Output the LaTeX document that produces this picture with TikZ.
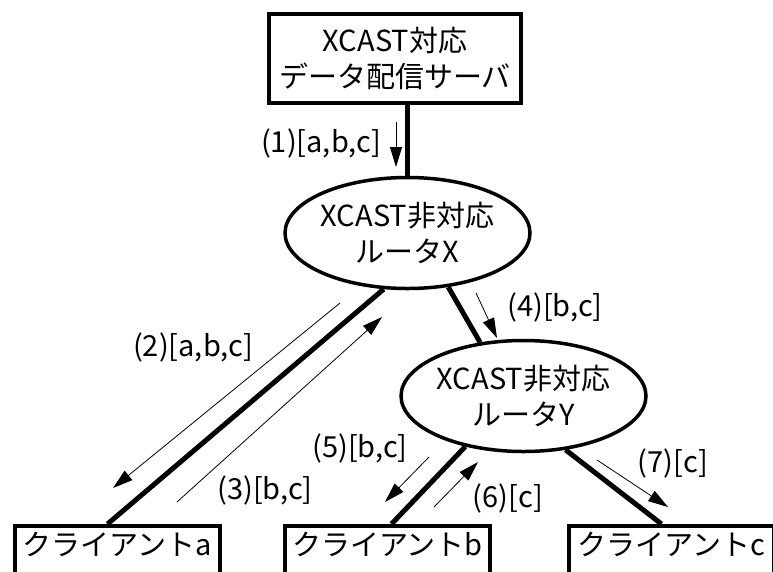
\documentclass[tikz,border=0pt]{standalone}
\usepackage{fontspec}
\newfontfamily\jpfont{Noto Sans CJK JP}
\usetikzlibrary{shapes.geometric,arrows.meta}
\tikzset{
  every node/.style={font=\jpfont\fontsize{29}{36}\selectfont, inner sep=0pt},
  box/.style={draw, line width=3.5pt, rectangle, align=center},
  client/.style={box, minimum width=205pt, text height=26pt, text depth=30pt, inner ysep=4pt, anchor=north},
  router/.style={draw, ellipse, line width=3.5pt, minimum width=226pt, minimum height=111pt, align=center},
  link/.style={line width=5pt},
  flow/.style={line width=0.8pt, -{Triangle[length=20pt,width=12pt]}},
}
\begin{document}
\begin{tikzpicture}[x=1pt, y=-1pt]
  \useasboundingbox (0,0) rectangle (773,571);

  % Server and routers
  \node[box, minimum width=252pt, minimum height=89pt] (srv) at (395,58.5) {XCAST対応\\データ配信サーバ};
  \node[router] (rx) at (407.5,233) {XCAST非対応\\ルータX};
  \node[router] (ry) at (523.5,396) {XCAST非対応\\ルータY};

  % Clients (bottom edge runs off the picture)
  \node[client] (ca) at (117.5,524) {クライアントa};
  \node[client] (cb) at (387.5,524) {クライアントb};
  \node[client] (cc) at (671.5,524) {クライアントc};

  % Links
  \draw[link] (rx.north) -- (rx.north |- srv.south);
  \draw[link] (rx.247) -- ([xshift=-10pt]ca.north);
  \draw[link] (rx.307) -- (ry.129);
  \draw[link] (ry.221) -- ([xshift=4pt]cb.north);
  \draw[link] (ry.308) -- ([xshift=-10pt]cc.north);

  % Packet flows
  \coordinate (f1s) at (396,122); \coordinate (f1e) at (396,167);
  \coordinate (f2s) at (340,303); \coordinate (f2e) at (113,488);
  \coordinate (f3s) at (177,502); \coordinate (f3e) at (382,317);
  \coordinate (f4s) at (476,293); \coordinate (f4e) at (497,338);
  \coordinate (f5s) at (429,457); \coordinate (f5e) at (385,502);
  \coordinate (f6s) at (434,507); \coordinate (f6e) at (478,462);
  \coordinate (f7s) at (597,460); \coordinate (f7e) at (668,507);
  \foreach \i in {1,...,7} {
    \draw[flow] (f\i s) -- (f\i e);
  }

  % Flow labels
  \node (l1) at (321,143) {(1)[a,b,c]};
  \node (l2) at (193,347) {(2)[a,b,c]};
  \node (l3) at (265,490) {(3)[b,c]};
  \node (l4) at (555,307) {(4)[b,c]};
  \node (l5) at (360,448) {(5)[b,c]};
  \node (l6) at (508,498) {(6)[c]};
  \node (l7) at (673,463) {(7)[c]};
\end{tikzpicture}
\end{document}
